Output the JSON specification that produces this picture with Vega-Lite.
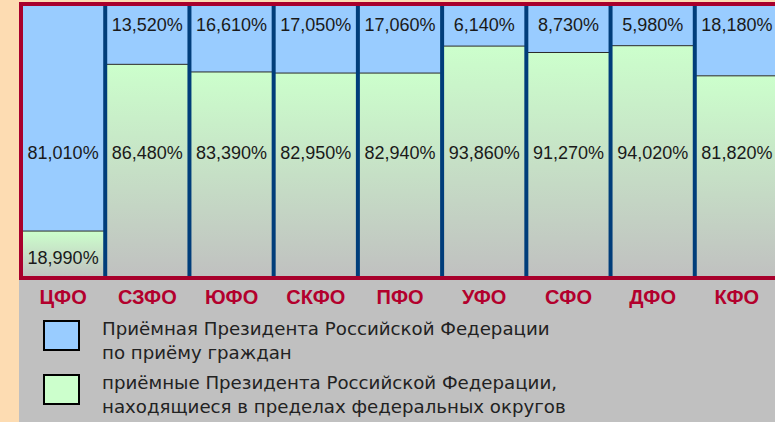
{
  "$schema": "https://vega.github.io/schema/vega-lite/v6.json",
  "width": 756,
  "height": 418,
  "autosize": "none",
  "padding": {"left": 19, "top": 4, "right": 0, "bottom": 0},
  "background": "#fddcb2",
  "view": {"fill": "#c0c0c0", "stroke": null},
  "config": {"font": "Liberation Sans", "axis": {"disable": true}},
  "data": {
    "values": [
      {"region": "ЦФО", "blue": 81.01, "green": 18.99},
      {"region": "СЗФО", "blue": 13.52, "green": 86.48},
      {"region": "ЮФО", "blue": 16.61, "green": 83.39},
      {"region": "СКФО", "blue": 17.05, "green": 82.95},
      {"region": "ПФО", "blue": 17.06, "green": 82.94},
      {"region": "УФО", "blue": 6.14, "green": 93.86},
      {"region": "СФО", "blue": 8.73, "green": 91.27},
      {"region": "ДФО", "blue": 5.98, "green": 94.02},
      {"region": "КФО", "blue": 18.18, "green": 81.82}
    ]
  },
  "layer": [
    {
      "mark": {"type": "bar"},
      "encoding": {
        "x": {"field": "region", "type": "nominal", "sort": null, "axis": null,
              "scale": {"range": [2, 760], "paddingInner": 0, "paddingOuter": 0}},
        "y": {"field": "green", "type": "quantitative", "axis": null,
              "scale": {"domain": [-58.3, 110.9], "nice": false, "zero": false}},
        "y2": {"datum": 110.9},
        "color": {
          "datum": "Приёмная Президента Российской Федерации|по приёму граждан",
          "scale": {
            "domain": ["Приёмная Президента Российской Федерации|по приёму граждан", "приёмные Президента Российской Федерации,|находящиеся в пределах федеральных округов"],
            "range": ["#99ccff", "#ccffcc"]
          },
          "legend": {
            "orient": "none",
            "legendX": 24,
            "legendY": 313,
            "title": null,
            "direction": "vertical",
            "padding": 0,
            "symbolType": "M-1,-0.83H1V0.83H-1Z",
            "symbolSize": 1225,
            "symbolStrokeColor": "#000000",
            "symbolStrokeWidth": 2,
            "symbolOpacity": 1,
            "labelExpr": "split(datum.label, '|')",
            "labelFont": "DejaVu Sans",
            "labelFontSize": 18.2,
            "labelColor": "#222222",
            "labelLimit": 0,
            "labelOffset": 22,
            "rowPadding": 8,
            "encode": {
              "symbols": {"update": {"stroke": {"value": "#000000"}, "strokeWidth": {"value": 2}, "opacity": {"value": 1}}},
              "labels": {"update": {"lineHeight": {"value": 24}, "dy": {"value": -6}}}
            }
          }
        }
      }
    },
    {
      "mark": {
        "type": "bar",
        "fill": {"gradient": "linear", "x1": 0, "y1": 0, "x2": 0, "y2": 1,
                 "stops": [{"offset": 0, "color": "#ccffcc"}, {"offset": 1, "color": "#c0c0c0"}]},
        "stroke": "#2a2a2a",
        "strokeWidth": 1
      },
      "encoding": {
        "x": {"field": "region", "type": "nominal", "sort": null, "axis": null},
        "y": {"field": "green", "type": "quantitative", "axis": null},
        "y2": {"datum": 0}
      }
    },
    {
      "transform": [{"filter": "datum.region != 'ЦФО'"}],
      "mark": {"type": "rule", "color": "#003d7a", "strokeWidth": 4},
      "encoding": {
        "x": {"field": "region", "type": "nominal", "sort": null, "bandPosition": 0, "axis": null},
        "y": {"datum": 0, "axis": null},
        "y2": {"datum": 110.9}
      }
    },
    {
      "transform": [{"filter": "datum.region == 'ЦФО'"}],
      "mark": {"type": "rule", "color": "#a8002c", "strokeWidth": 4},
      "encoding": {
        "x": {"field": "region", "type": "nominal", "sort": null, "bandPosition": 0, "axis": null},
        "y": {"datum": 0, "axis": null},
        "y2": {"datum": 110.9}
      }
    },
    {
      "mark": {"type": "rule", "color": "#a8002c", "strokeWidth": 4},
      "encoding": {"y": {"datum": 110.9, "axis": null}}
    },
    {
      "mark": {"type": "rule", "color": "#a8002c", "strokeWidth": 3.5},
      "encoding": {"y": {"datum": 0, "axis": null}}
    },
    {
      "transform": [
        {"filter": "datum.region != 'ЦФО'"},
        {"calculate": "replace(format(datum.blue, '.3f'), '.', ',') + '%'", "as": "lbl"}
      ],
      "mark": {"type": "text", "baseline": "alphabetic", "fontSize": 18, "color": "#1a1a1a"},
      "encoding": {
        "x": {"field": "region", "type": "nominal", "sort": null, "axis": null},
        "y": {"datum": 100.1, "axis": null},
        "text": {"field": "lbl"}
      }
    },
    {
      "transform": [
        {"calculate": "datum.region == 'ЦФО' ? datum.blue : datum.green", "as": "v"},
        {"calculate": "replace(format(datum.v, '.3f'), '.', ',') + '%'", "as": "lbl"}
      ],
      "mark": {"type": "text", "baseline": "alphabetic", "fontSize": 18, "color": "#1a1a1a"},
      "encoding": {
        "x": {"field": "region", "type": "nominal", "sort": null, "axis": null},
        "y": {"datum": 48.1, "axis": null},
        "text": {"field": "lbl"}
      }
    },
    {
      "transform": [
        {"filter": "datum.region == 'ЦФО'"},
        {"calculate": "replace(format(datum.green, '.3f'), '.', ',') + '%'", "as": "lbl"}
      ],
      "mark": {"type": "text", "baseline": "alphabetic", "fontSize": 18, "color": "#1a1a1a"},
      "encoding": {
        "x": {"field": "region", "type": "nominal", "sort": null, "axis": null},
        "y": {"datum": 5.5, "axis": null},
        "text": {"field": "lbl"}
      }
    },
    {
      "mark": {"type": "text", "baseline": "alphabetic", "fontSize": 20, "fontWeight": "bold", "color": "#b3002d"},
      "encoding": {
        "x": {"field": "region", "type": "nominal", "sort": null, "axis": null},
        "y": {"datum": -10.4, "axis": null},
        "text": {"field": "region"}
      }
    }
  ]
}
